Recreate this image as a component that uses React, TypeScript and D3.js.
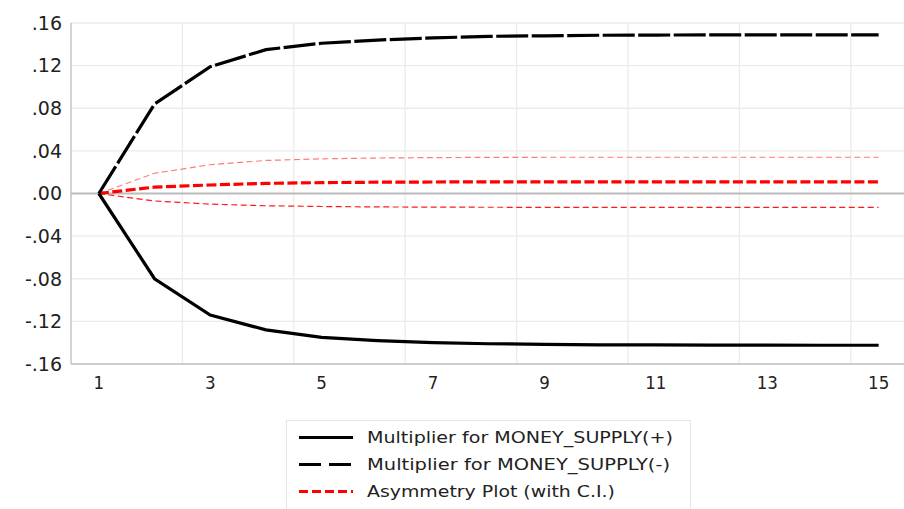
import React from "react";
import * as d3 from "d3";

// periods 1..15
const periods = d3.range(1, 16);
const xTicks = [1, 3, 5, 7, 9, 11, 13, 15];
const yTicks = [0.16, 0.12, 0.08, 0.04, 0, -0.04, -0.08, -0.12, -0.16];

const multPos = [0, -0.08, -0.114, -0.128, -0.135, -0.138, -0.14, -0.141, -0.1415, -0.142, -0.142, -0.1422, -0.1423, -0.1424, -0.1424];
const multNeg = [0, 0.084, 0.119, 0.135, 0.141, 0.144, 0.146, 0.1475, 0.148, 0.1485, 0.1487, 0.1488, 0.1488, 0.1489, 0.1489];
const asym = [0, 0.006, 0.008, 0.0095, 0.0102, 0.0106, 0.0108, 0.0109, 0.011, 0.011, 0.011, 0.011, 0.011, 0.011, 0.011];
const ciUpper = [0, 0.019, 0.027, 0.031, 0.0325, 0.0333, 0.0337, 0.0339, 0.034, 0.034, 0.034, 0.034, 0.034, 0.034, 0.034];
const ciLower = [0, -0.007, -0.01, -0.0115, -0.0122, -0.0126, -0.0128, -0.0129, -0.013, -0.013, -0.013, -0.013, -0.013, -0.013, -0.013];

const legendItems = [
  { label: "Multiplier for MONEY_SUPPLY(+)", color: "#000", dash: "none", len: 306 },
  { label: "Multiplier for MONEY_SUPPLY(-)", color: "#000", dash: "22 8", len: 303 },
  { label: "Asymmetry Plot (with C.I.)", color: "#ff0000", dash: "9 4", len: 248 },
];

export default function App() {
  const width = 904;
  const height = 509;
  const left = 71;
  const top = 23;
  const bottom = 364;

  // category i centred in its slot
  const step = 55.7;
  const x = d3.scaleLinear().domain([0.5, 15.5]).range([left, left + step * 15]);
  const y = d3.scaleLinear().domain([-0.16, 0.16]).range([bottom, top]);

  const line = (vals: number[]) =>
    d3.line<number>().x((_, i) => x(periods[i])).y((d) => y(d))(vals) || undefined;

  const vGrid = d3.range(2.5, 15, 2);
  const fmt = (t: number) => (t < 0 ? "-" : "") + d3.format(".2f")(Math.abs(t)).replace(/^0/, "");

  return (
    <svg width={width} height={height} style={{ position: "fixed", left: 0, top: 0, background: "#fff" }}>
      {/* grid */}
      {yTicks.filter((t) => t !== 0 && t !== -0.16).map((t) => (
        <line key={"h" + t} x1={left} x2={width} y1={y(t)} y2={y(t)} stroke="#ebebeb" strokeWidth={1.3} />
      ))}
      {vGrid.map((g) => (
        <line key={"v" + g} x1={x(g)} x2={x(g)} y1={top} y2={bottom} stroke="#ebebeb" strokeWidth={1.3} />
      ))}
      {/* axes */}
      <line x1={left} x2={left} y1={top} y2={bottom} stroke="#bdbdbd" strokeWidth={1.3} />
      <line x1={left} x2={width} y1={bottom} y2={bottom} stroke="#bdbdbd" strokeWidth={1.3} />
      <line x1={left} x2={width} y1={y(0)} y2={y(0)} stroke="#bbbbbb" strokeWidth={2} />

      {/* y labels */}
      {yTicks.map((t) => (
        <text key={"yl" + t} x={62} y={y(t)} dy="0.36em" textAnchor="end" fontFamily="DejaVu Sans, Verdana, sans-serif" fontSize={19} fill="#222">
          {fmt(t)}
        </text>
      ))}
      {/* x labels */}
      {xTicks.map((t) => (
        <text key={"xl" + t} x={x(t)} y={389} textAnchor="middle" fontFamily="'Liberation Sans Narrow', 'DejaVu Sans Condensed', sans-serif" fontSize={18.5} fill="#222">
          {t}
        </text>
      ))}

      {/* series */}
      <path d={line(ciUpper)} fill="none" stroke="#ff7a7a" strokeWidth={1.2} strokeDasharray="6 3.5" />
      <path d={line(ciLower)} fill="none" stroke="#ff1a1a" strokeWidth={1.2} strokeDasharray="6 3.5" />
      <path d={line(asym)} fill="none" stroke="#ff0000" strokeWidth={3.2} strokeDasharray="10 3.5" />
      <path d={line(multNeg)} fill="none" stroke="#000" strokeWidth={3.2} strokeDasharray="32 3.5" />
      <path d={line(multPos)} fill="none" stroke="#000" strokeWidth={3.2} />

      {/* legend */}
      <rect x={286.5} y={420.5} width={404} height={100} fill="#fff" stroke="#e6e6e6" strokeWidth={1} />
      {legendItems.map((it, i) => {
        const ly = 437.5 + i * 27;
        return (
          <g key={it.label}>
            <line x1={299} x2={353} y1={ly} y2={ly} stroke={it.color} strokeWidth={3} strokeDasharray={it.dash} />
            <text x={367} y={ly} dy="0.36em" fontFamily="DejaVu Sans, Verdana, sans-serif" fontSize={16.5} fill="#222"
              textLength={it.len} lengthAdjust="spacingAndGlyphs">
              {it.label}
            </text>
          </g>
        );
      })}
    </svg>
  );
}
